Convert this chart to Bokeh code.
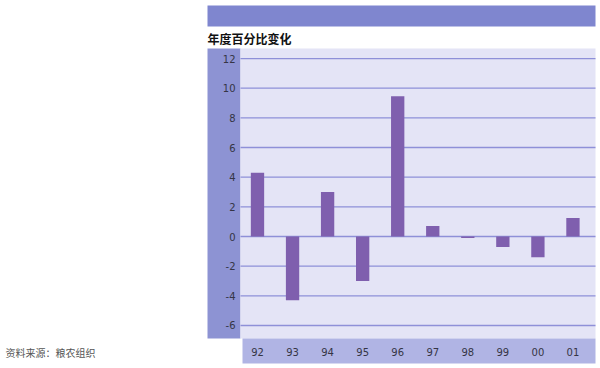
from bokeh.plotting import figure
from bokeh.models import Range1d, ColumnDataSource
from bokeh.core.properties import value
from bokeh.embed import file_html
from bokeh.resources import INLINE

years = ["92", "93", "94", "95", "96", "97", "98", "99", "00", "01"]
change = [4.3, -4.3, 3.0, -3.0, 9.45, 0.7, -0.1, -0.7, -1.4, 1.25]
y_ticks = [-6, -4, -2, 0, 2, 4, 6, 8, 10, 12]
y_tick_labels = ["-6", "-4", "-2", "0", "2", "4", "6", "8", "10", "12"]
title_text = "年度百分比变化"
source_text = "资料来源：粮农组织"

W, H = 600, 368
# layout (pixels, top-left origin)
PLOT_L, PLOT_R, PLOT_T, PLOT_B = 240, 595, 48, 338
BAND_L = 207
ZERO_Y, PX_PER_UNIT = 236, 14.83
X0, PX_PER_CAT = 257.0, 35.05

idx = list(range(len(years)))
src = ColumnDataSource(data=dict(x=idx, top=change, label=years))

p = figure(width=W, height=H, output_backend="svg", toolbar_location=None,
           x_axis_type=None, y_axis_type=None,
           x_range=Range1d(-X0 / PX_PER_CAT, (W - X0) / PX_PER_CAT),
           y_range=Range1d(-(H - ZERO_Y) / PX_PER_UNIT, ZERO_Y / PX_PER_UNIT),
           min_border=0)
p.extra_x_ranges["px"] = Range1d(0, W)
p.extra_y_ranges["px"] = Range1d(H, 0)
p.background_fill_color = "white"
p.border_fill_color = "white"
p.outline_line_color = None

# decorative bands
p.quad(left=[BAND_L], right=[PLOT_R], top=[5], bottom=[26], fill_color="#7f86cf",
       line_color=None, x_range_name="px", y_range_name="px")
p.quad(left=[BAND_L], right=[PLOT_L], top=[PLOT_T], bottom=[PLOT_B], fill_color="#8d93d3",
       line_color=None, x_range_name="px", y_range_name="px")
p.quad(left=[PLOT_L], right=[PLOT_R], top=[PLOT_T], bottom=[PLOT_B], fill_color="#e4e4f6",
       line_color=None, x_range_name="px", y_range_name="px")
p.quad(left=[PLOT_L + 2], right=[PLOT_R], top=[PLOT_B], bottom=[363], fill_color="#b0b4e4",
       line_color=None, x_range_name="px", y_range_name="px")

# grid lines at tick values
p.segment(x0=[PLOT_L] * len(y_ticks), x1=[PLOT_R] * len(y_ticks), y0=y_ticks, y1=y_ticks,
          line_color="#8e90d8", line_width=1.3, x_range_name="px")

# bars
p.vbar(x="x", top="top", bottom=0, width=0.38, source=src,
       fill_color="#7f5fae", line_color=None)

# y tick labels
p.text(x=[PLOT_L - 5] * len(y_ticks), y=y_ticks, text=y_tick_labels,
       text_font=value("DejaVu Sans"), text_font_size="10px", text_color="#353545",
       text_align="right", text_baseline="middle", x_range_name="px")

# x tick labels
p.text(x="x", y=351, text="label", source=src, y_range_name="px",
       text_font=value("DejaVu Sans"), text_font_size="10px", text_color="#353545",
       text_align="center", text_baseline="middle")

# title and source
p.text(x=[BAND_L], y=[38], text=[title_text], x_range_name="px", y_range_name="px",
       text_font=value("Noto Sans CJK SC"), text_font_size="12px", text_font_style="bold",
       text_color="#111111", text_align="left", text_baseline="middle")
p.text(x=[5], y=[352], text=[source_text], x_range_name="px", y_range_name="px",
       text_font=value("Noto Sans CJK SC"), text_font_size="10px",
       text_color="#555555", text_align="left", text_baseline="middle")

open("out.html", "w").write(file_html(p, INLINE))
